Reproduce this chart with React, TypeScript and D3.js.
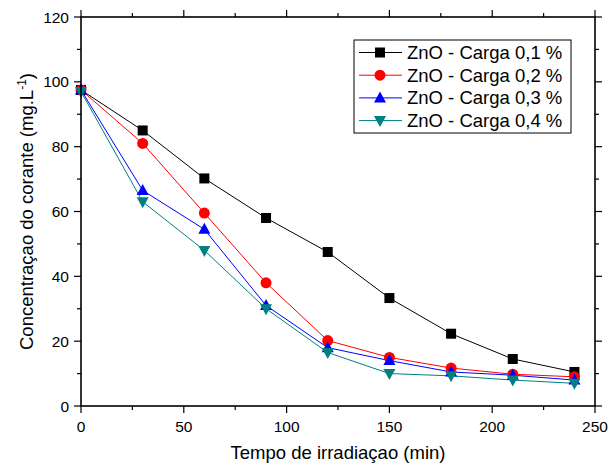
import React from 'react';
import * as d3 from 'd3';

const times = [0, 30, 60, 90, 120, 150, 180, 210, 240];
const carga01 = [97.5, 85, 70.2, 58, 47.5, 33.3, 22.3, 14.5, 10.5];
const carga02 = [97.5, 81, 59.5, 38, 20.2, 15, 11.7, 9.8, 9];
const carga03 = [97.5, 66.5, 54.5, 31, 18, 14, 10.5, 9.5, 8];
const carga04 = [97, 63, 48, 30, 16.5, 10, 9.3, 8, 7];
const seriesNames = ['ZnO - Carga 0,1 %', 'ZnO - Carga 0,2 %', 'ZnO - Carga 0,3 %', 'ZnO - Carga 0,4 %'];
const seriesColors = ['#000000', '#ff0000', '#0000ff', '#008080'];
const seriesShapes = ['square', 'circle', 'triangle', 'triangleDown'];
const xTicks = [0, 50, 100, 150, 200, 250];
const yTicks = [0, 20, 40, 60, 80, 100, 120];

const W = 616, H = 466;
const margin = { top: 17, right: 21, bottom: 60, left: 81 };

const Marker = ({ shape, x, y, color }: { shape: string; x: number; y: number; color: string }) => {
  if (shape === 'square') return <rect x={x - 5} y={y - 5} width={10} height={10} fill={color} />;
  if (shape === 'circle') return <circle cx={x} cy={y} r={5.5} fill={color} />;
  if (shape === 'triangle') return <path d={`M${x},${y - 6.5}L${x + 6},${y + 4.5}L${x - 6},${y + 4.5}Z`} fill={color} />;
  return <path d={`M${x},${y + 6.5}L${x + 6},${y - 4.5}L${x - 6},${y - 4.5}Z`} fill={color} />;
};

export default function App() {
  const x = d3.scaleLinear().domain([0, 250]).range([margin.left, W - margin.right]);
  const y = d3.scaleLinear().domain([0, 120]).range([H - margin.bottom, margin.top]);
  const data = [carga01, carga02, carga03, carga04];
  const line = d3.line<number>().x((_, i) => x(times[i])).y(d => y(d));
  const xMinor = d3.range(0, 251, 25);
  const yMinor = d3.range(0, 121, 10);
  const x0 = x(0), x1 = x(250), y0 = y(0), y1 = y(120);

  return (
    <svg width={W} height={H} style={{ position: 'absolute', left: 0, top: 0 }} fontFamily="Liberation Sans, Arial, sans-serif">
      <rect width={W} height={H} fill="#fff" />
      {data.map((s, k) => (
        <path key={k} d={line(s) || ''} fill="none" stroke={seriesColors[k]} strokeWidth={1} />
      ))}
      {data.map((s, k) => s.map((v, i) => (
        <Marker key={`${k}-${i}`} shape={seriesShapes[k]} x={x(times[i])} y={y(v)} color={seriesColors[k]} />
      )))}
      {/* ticks point outward on all four sides */}
      <g stroke="#000" strokeWidth={1.2}>
        {xMinor.map(t => {
          const len = t % 50 === 0 ? 7 : 4;
          return (
            <g key={t}>
              <line x1={x(t)} x2={x(t)} y1={y0} y2={y0 + len} />
              <line x1={x(t)} x2={x(t)} y1={y1} y2={y1 - len} />
            </g>
          );
        })}
        {yMinor.map(t => {
          const len = t % 20 === 0 ? 7 : 4;
          return (
            <g key={t}>
              <line x1={x0} x2={x0 - len} y1={y(t)} y2={y(t)} />
              <line x1={x1} x2={x1 + len} y1={y(t)} y2={y(t)} />
            </g>
          );
        })}
      </g>
      <rect x={x0} y={y1} width={x1 - x0} height={y0 - y1} fill="none" stroke="#000" strokeWidth={1.6} />
      {xTicks.map(t => (
        <text key={t} x={x(t)} y={y0 + 26} textAnchor="middle" fontSize={15.5}>{t}</text>
      ))}
      {yTicks.map(t => (
        <text key={t} x={x0 - 12} y={y(t) + 5.5} textAnchor="end" fontSize={15.5}>{t}</text>
      ))}
      <text x={(x0 + x1) / 2} y={459} textAnchor="middle" fontSize={18.5}>Tempo de irradiaçao (min)</text>
      <text transform={`translate(33,${(y0 + y1) / 2}) rotate(-90)`} textAnchor="middle" fontSize={18.5}>
        Concentraçao do corante (mg.L<tspan dy={-7} fontSize={12}>-1</tspan><tspan dy={7}>)</tspan>
      </text>
      <g>
        <rect x={354} y={40} width={217} height={93} fill="#fff" stroke="#000" strokeWidth={1} />
        {seriesNames.map((n, k) => {
          const ly = 52.5 + k * 22.7;
          return (
            <g key={n}>
              <line x1={359} x2={402} y1={ly} y2={ly} stroke={seriesColors[k]} strokeWidth={1} />
              <Marker shape={seriesShapes[k]} x={380} y={ly} color={seriesColors[k]} />
              <text x={407} y={ly + 6.5} fontSize={18.5}>{n}</text>
            </g>
          );
        })}
      </g>
    </svg>
  );
}
